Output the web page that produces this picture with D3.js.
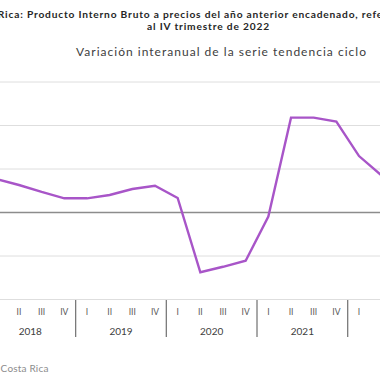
<!DOCTYPE html>
<html><head><meta charset="utf-8">
<script src="https://cdn.jsdelivr.net/npm/d3@7"></script>
<style>html,body{margin:0;padding:0;background:#fff;overflow:hidden}svg{display:block}</style>
</head><body>
<svg id="c" width="380" height="380"></svg>
<script>
const years = ["2018","2019","2020","2021","2022"];
const quarters = ["I","II","III","IV"];
const periods = ["2018-I","2018-II","2018-III","2018-IV","2019-I","2019-II","2019-III","2019-IV","2020-I","2020-II","2020-III","2020-IV","2021-I","2021-II","2021-III","2021-IV","2022-I","2022-II"];
const values = [3.85,3.16,2.36,1.63,1.63,2.01,2.70,3.08,1.67,-6.87,-6.24,-5.54,-0.46,10.90,10.90,10.44,6.49,4.25];
const yTicks = [-10,-5,0,5,10,15];
const titleLine1 = "Costa Rica: Producto Interno Bruto a precios del año anterior encadenado, referencia 2017,";
const titleLine2 = "al IV trimestre de 2022";
const subtitle = "Variación interanual de la serie tendencia ciclo";
const source = "Fuente: Banco Central de Costa Rica";

const svg = d3.select("#c");
const font = "Lato, 'Open Sans', sans-serif";
const qStep = 22.67;
const x = d3.scaleLinear().domain([0, 1]).range([-3.7, -3.7 + qStep]);
const y = d3.scaleLinear().domain([-10, 15]).range([299.5, 82]);

// gridlines
svg.append("g").selectAll("line").data(yTicks).join("line")
  .attr("x1", 0).attr("x2", 380)
  .attr("y1", d => y(d)).attr("y2", d => y(d))
  .attr("stroke", d => d === 0 ? "#8c8c8c" : "#dedede")
  .attr("stroke-width", d => d === 0 ? 1.3 : 1);

// quarter labels
const allQ = [];
years.forEach((yr, yi) => quarters.forEach((q, qi) => allQ.push({yr, q, i: yi*4 + qi})));
svg.append("g").selectAll("text").data(allQ.filter(d => x(d.i) > 3 && x(d.i) < 374)).join("text")
  .attr("x", d => x(d.i)).attr("y", 315)
  .attr("text-anchor", "middle")
  .attr("font-family", font).attr("font-size", 8.5).attr("fill", "#595959")
  .text(d => d.q);

// year labels
svg.append("g").selectAll("text").data(years.filter((d, i) => (x(i*4+1)+x(i*4+2))/2 < 370)).join("text")
  .attr("x", (d, i) => (x(i*4 + 1) + x(i*4 + 2)) / 2).attr("y", 335)
  .attr("text-anchor", "middle")
  .attr("font-family", font).attr("font-size", 10).attr("fill", "#404040")
  .text(d => d);

// separators
const seps = d3.range(-1, years.length).map(i => i*4 + 3.5);
svg.append("g").selectAll("line").data(seps).join("line")
  .attr("x1", d => x(d)).attr("x2", d => x(d))
  .attr("y1", 300).attr("y2", 337)
  .attr("stroke", "#7a7a7a").attr("stroke-width", 1.3);

// line
const line = d3.line().x((d, i) => x(i)).y(d => y(d));
svg.append("path").datum(values)
  .attr("d", line).attr("fill", "none")
  .attr("stroke", "#a855c8").attr("stroke-width", 2.4)
  .attr("stroke-linejoin", "miter");

// helper: fit text width with letter-spacing
function spread(sel, target, from, to) {
  const node = sel.node();
  const n = (to ?? node.getNumberOfChars()) - (from ?? 0);
  const w = node.getSubStringLength(from ?? 0, n);
  const ls = (target - w) / n;
  sel.attr("letter-spacing", ls);
  return ls;
}

// titles
const t1 = svg.append("text").attr("font-family", font).attr("font-weight", "bold")
  .attr("fill", "#262626").attr("y", 18).attr("font-size", 10.2).text(titleLine1);
{
  const node = t1.node();
  const start = titleLine1.indexOf("Rica");
  const endIdx = titleLine1.indexOf("re", titleLine1.indexOf("encadenado"));
  const ls = spread(t1, 364, start, endIdx);
  const off = node.getSubStringLength(0, start) + ls * start;
  t1.attr("x", 2.7 - off);
}
const t2 = svg.append("text").attr("font-family", font).attr("font-weight", "bold")
  .attr("fill", "#262626").attr("x", 208.5).attr("y", 29.5).attr("text-anchor", "middle")
  .attr("font-size", 10.2).text(titleLine2);
spread(t2, 123);
const t3 = svg.append("text").attr("font-family", font)
  .attr("fill", "#404040").attr("x", 221.5).attr("y", 56).attr("text-anchor", "middle")
  .attr("font-size", 12).text(subtitle);
spread(t3, 291);
const t4 = svg.append("text").attr("font-family", font).attr("fill", "#8c8c8c")
  .attr("y", 372).attr("font-size", 10).text(source);
{
  const node = t4.node();
  const start = source.indexOf("Costa");
  const ls = spread(t4, 48, start);
  const off = node.getSubStringLength(0, start) + ls * start;
  t4.attr("x", 5.5 - off);
}
</script>
</body></html>
